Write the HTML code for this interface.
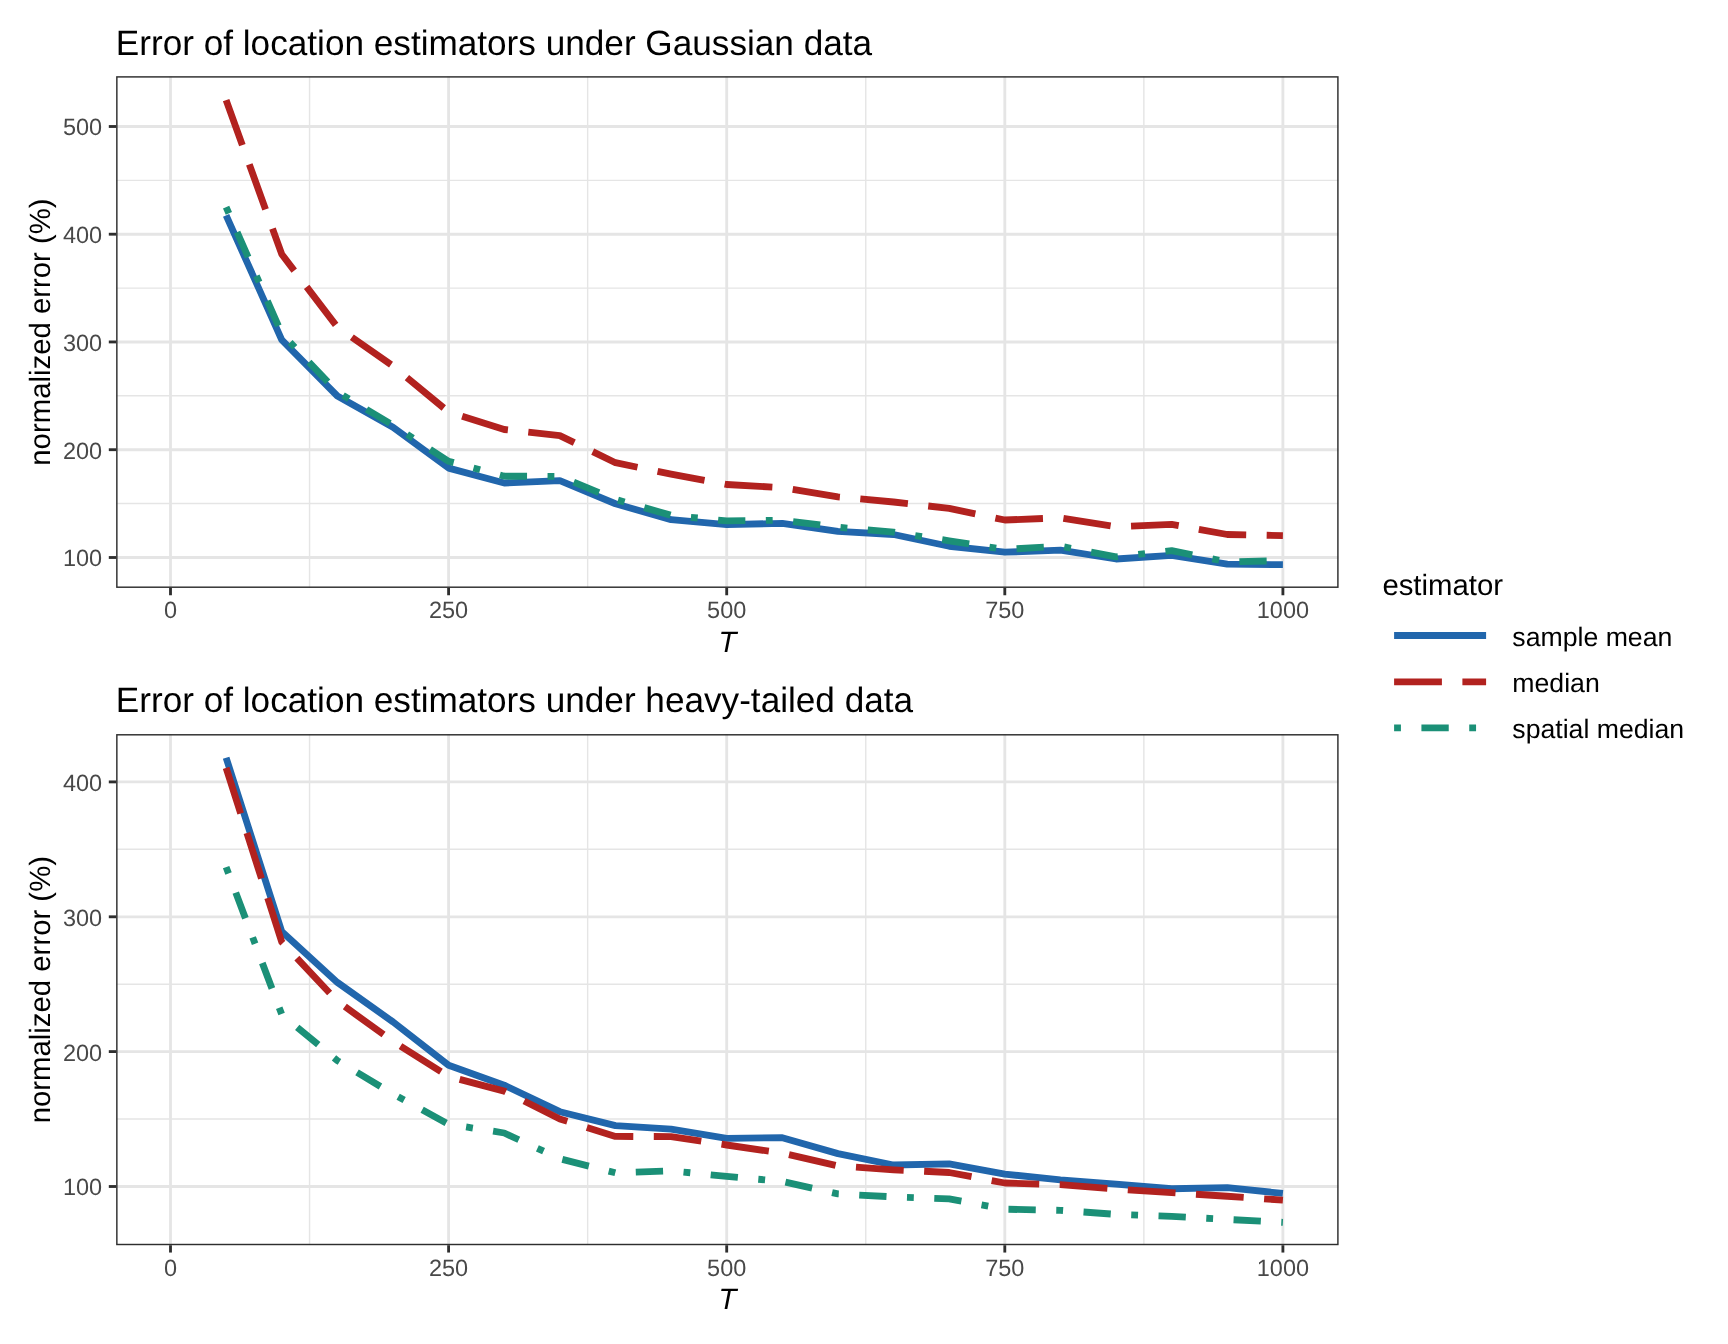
<!DOCTYPE html>
<html lang="en"><head><meta charset="utf-8"><title>Error of location estimators</title>
<style>
html,body{margin:0;padding:0;background:#fff;}
body{width:1728px;height:1344px;overflow:hidden;}
svg{display:block;font-family:"Liberation Sans",Arial,Helvetica,sans-serif;will-change:transform;-webkit-font-smoothing:antialiased;text-rendering:geometricPrecision;}
</style></head><body>
<svg width="1728" height="1344" viewBox="0 0 1728 1344">
<rect width="1728" height="1344" fill="#fff"/>
<clipPath id="c1"><rect x="116.12" y="76.18" width="1222.5" height="511.75"/></clipPath>
<g clip-path="url(#c1)">
<line x1="116.12" x2="1338.62" y1="180.4" y2="180.4" stroke="#E5E5E5" stroke-width="1.42"/>
<line x1="116.12" x2="1338.62" y1="288.1" y2="288.1" stroke="#E5E5E5" stroke-width="1.42"/>
<line x1="116.12" x2="1338.62" y1="395.8" y2="395.8" stroke="#E5E5E5" stroke-width="1.42"/>
<line x1="116.12" x2="1338.62" y1="503.5" y2="503.5" stroke="#E5E5E5" stroke-width="1.42"/>
<line y1="76.18" y2="587.93" x1="309.55" x2="309.55" stroke="#E5E5E5" stroke-width="1.42"/>
<line y1="76.18" y2="587.93" x1="587.65" x2="587.65" stroke="#E5E5E5" stroke-width="1.42"/>
<line y1="76.18" y2="587.93" x1="865.75" x2="865.75" stroke="#E5E5E5" stroke-width="1.42"/>
<line y1="76.18" y2="587.93" x1="1143.85" x2="1143.85" stroke="#E5E5E5" stroke-width="1.42"/>
<line x1="116.12" x2="1338.62" y1="126.5" y2="126.5" stroke="#E5E5E5" stroke-width="2.85"/>
<line x1="116.12" x2="1338.62" y1="234.2" y2="234.2" stroke="#E5E5E5" stroke-width="2.85"/>
<line x1="116.12" x2="1338.62" y1="341.95" y2="341.95" stroke="#E5E5E5" stroke-width="2.85"/>
<line x1="116.12" x2="1338.62" y1="449.7" y2="449.7" stroke="#E5E5E5" stroke-width="2.85"/>
<line x1="116.12" x2="1338.62" y1="557.5" y2="557.5" stroke="#E5E5E5" stroke-width="2.85"/>
<line y1="76.18" y2="587.93" x1="170.5" x2="170.5" stroke="#E5E5E5" stroke-width="2.85"/>
<line y1="76.18" y2="587.93" x1="448.6" x2="448.6" stroke="#E5E5E5" stroke-width="2.85"/>
<line y1="76.18" y2="587.93" x1="726.7" x2="726.7" stroke="#E5E5E5" stroke-width="2.85"/>
<line y1="76.18" y2="587.93" x1="1004.8" x2="1004.8" stroke="#E5E5E5" stroke-width="2.85"/>
<line y1="76.18" y2="587.93" x1="1282.9" x2="1282.9" stroke="#E5E5E5" stroke-width="2.85"/>
<polyline points="226.12,215.4 281.74,339.8 337.36,396 392.98,427.2 448.6,468.1 504.22,483 559.84,480.6 615.46,503.75 671.08,519.7 726.7,524.7 782.32,523.3 837.94,531.4 893.56,534.5 949.18,546.25 1004.8,552.2 1060.42,550.2 1116.04,559 1171.66,555.3 1227.28,564.2 1282.9,564.7" fill="none" stroke="#2166AC" stroke-width="6.83" stroke-linejoin="round"/>
<polyline points="226.12,100.1 281.74,254.2 337.36,327.1 392.98,366 448.6,412 504.22,429.5 559.84,435.6 615.46,462.7 671.08,474.2 726.7,484.5 782.32,487.7 837.94,496.9 893.56,502 949.18,508.4 1004.8,520 1060.42,517.8 1116.04,526.7 1171.66,524.4 1227.28,534.5 1282.9,535.6" fill="none" stroke="#B2221F" stroke-width="6.83" stroke-linejoin="round" stroke-dasharray="47.81 20.49"/>
<polyline points="226.12,207.1 281.74,333.5 337.36,391.9 392.98,425.2 448.6,461.3 504.22,476.2 559.84,476.4 615.46,499.4 671.08,515.3 726.7,520.9 782.32,520.2 837.94,527.2 893.56,532.2 949.18,540.8 1004.8,549.4 1060.42,546.25 1116.04,556.9 1171.66,550.6 1227.28,561.9 1282.9,560.6" fill="none" stroke="#1B9077" stroke-width="6.83" stroke-linejoin="round" stroke-dasharray="6.83 20.49 27.32 20.49"/>
</g>
<rect x="116.85" y="76.9" width="1221.05" height="510.3" fill="none" stroke="#2E2E2E" stroke-width="1.45"/>
<line x1="108.8" x2="116.12" y1="126.5" y2="126.5" stroke="#2E2E2E" stroke-width="2.85"/>
<text x="102.2" y="135.4" text-anchor="end" font-size="23.47" fill="#484848">500</text>
<line x1="108.8" x2="116.12" y1="234.2" y2="234.2" stroke="#2E2E2E" stroke-width="2.85"/>
<text x="102.2" y="243.1" text-anchor="end" font-size="23.47" fill="#484848">400</text>
<line x1="108.8" x2="116.12" y1="341.95" y2="341.95" stroke="#2E2E2E" stroke-width="2.85"/>
<text x="102.2" y="350.85" text-anchor="end" font-size="23.47" fill="#484848">300</text>
<line x1="108.8" x2="116.12" y1="449.7" y2="449.7" stroke="#2E2E2E" stroke-width="2.85"/>
<text x="102.2" y="458.6" text-anchor="end" font-size="23.47" fill="#484848">200</text>
<line x1="108.8" x2="116.12" y1="557.5" y2="557.5" stroke="#2E2E2E" stroke-width="2.85"/>
<text x="102.2" y="566.4" text-anchor="end" font-size="23.47" fill="#484848">100</text>
<line y1="587.93" y2="595.26" x1="170.5" x2="170.5" stroke="#2E2E2E" stroke-width="2.85"/>
<text x="170.5" y="618.2" text-anchor="middle" font-size="23.47" fill="#484848">0</text>
<line y1="587.93" y2="595.26" x1="448.6" x2="448.6" stroke="#2E2E2E" stroke-width="2.85"/>
<text x="448.6" y="618.2" text-anchor="middle" font-size="23.47" fill="#484848">250</text>
<line y1="587.93" y2="595.26" x1="726.7" x2="726.7" stroke="#2E2E2E" stroke-width="2.85"/>
<text x="726.7" y="618.2" text-anchor="middle" font-size="23.47" fill="#484848">500</text>
<line y1="587.93" y2="595.26" x1="1004.8" x2="1004.8" stroke="#2E2E2E" stroke-width="2.85"/>
<text x="1004.8" y="618.2" text-anchor="middle" font-size="23.47" fill="#484848">750</text>
<line y1="587.93" y2="595.26" x1="1282.9" x2="1282.9" stroke="#2E2E2E" stroke-width="2.85"/>
<text x="1282.9" y="618.2" text-anchor="middle" font-size="23.47" fill="#484848">1000</text>
<text x="115.83" y="54.7" font-size="35.16" fill="#000">Error of location estimators under Gaussian data</text>
<text x="727.38" y="652" text-anchor="middle" font-size="29.33" font-style="italic" fill="#000">T</text>
<text transform="translate(50.2,332.05) rotate(-90)" text-anchor="middle" font-size="29.33" fill="#000">normalized error (%)</text>
<clipPath id="c2"><rect x="116.12" y="734.07" width="1222.5" height="511.15"/></clipPath>
<g clip-path="url(#c2)">
<line x1="116.12" x2="1338.62" y1="849.3" y2="849.3" stroke="#E5E5E5" stroke-width="1.42"/>
<line x1="116.12" x2="1338.62" y1="984.2" y2="984.2" stroke="#E5E5E5" stroke-width="1.42"/>
<line x1="116.12" x2="1338.62" y1="1119" y2="1119" stroke="#E5E5E5" stroke-width="1.42"/>
<line y1="734.07" y2="1245.22" x1="309.55" x2="309.55" stroke="#E5E5E5" stroke-width="1.42"/>
<line y1="734.07" y2="1245.22" x1="587.65" x2="587.65" stroke="#E5E5E5" stroke-width="1.42"/>
<line y1="734.07" y2="1245.22" x1="865.75" x2="865.75" stroke="#E5E5E5" stroke-width="1.42"/>
<line y1="734.07" y2="1245.22" x1="1143.85" x2="1143.85" stroke="#E5E5E5" stroke-width="1.42"/>
<line x1="116.12" x2="1338.62" y1="781.9" y2="781.9" stroke="#E5E5E5" stroke-width="2.85"/>
<line x1="116.12" x2="1338.62" y1="916.8" y2="916.8" stroke="#E5E5E5" stroke-width="2.85"/>
<line x1="116.12" x2="1338.62" y1="1051.6" y2="1051.6" stroke="#E5E5E5" stroke-width="2.85"/>
<line x1="116.12" x2="1338.62" y1="1186.5" y2="1186.5" stroke="#E5E5E5" stroke-width="2.85"/>
<line y1="734.07" y2="1245.22" x1="170.5" x2="170.5" stroke="#E5E5E5" stroke-width="2.85"/>
<line y1="734.07" y2="1245.22" x1="448.6" x2="448.6" stroke="#E5E5E5" stroke-width="2.85"/>
<line y1="734.07" y2="1245.22" x1="726.7" x2="726.7" stroke="#E5E5E5" stroke-width="2.85"/>
<line y1="734.07" y2="1245.22" x1="1004.8" x2="1004.8" stroke="#E5E5E5" stroke-width="2.85"/>
<line y1="734.07" y2="1245.22" x1="1282.9" x2="1282.9" stroke="#E5E5E5" stroke-width="2.85"/>
<polyline points="226.12,757.7 281.74,931.6 337.36,982.4 392.98,1021.9 448.6,1065.2 504.22,1085.2 559.84,1111.7 615.46,1125.6 671.08,1129.1 726.7,1138.4 782.32,1137.7 837.94,1153.6 893.56,1165 949.18,1163.9 1004.8,1174.1 1060.42,1179.8 1116.04,1184.1 1171.66,1188.75 1227.28,1187.7 1282.9,1193.4" fill="none" stroke="#2166AC" stroke-width="6.83" stroke-linejoin="round"/>
<polyline points="226.12,767.9 281.74,942 337.36,1001.2 392.98,1041.4 448.6,1076.4 504.22,1091.1 559.84,1119 615.46,1136.4 671.08,1136.6 726.7,1145 782.32,1153.1 837.94,1165.9 893.56,1169.8 949.18,1172.5 1004.8,1183 1060.42,1184.7 1116.04,1189.1 1171.66,1192.7 1227.28,1196.25 1282.9,1200.2" fill="none" stroke="#B2221F" stroke-width="6.83" stroke-linejoin="round" stroke-dasharray="47.81 20.49"/>
<polyline points="226.12,867.1 281.74,1014.4 337.36,1060.6 392.98,1094 448.6,1124.2 504.22,1133 559.84,1158.75 615.46,1172.8 671.08,1170.8 726.7,1176.4 782.32,1181.4 837.94,1193.9 893.56,1196.9 949.18,1198.9 1004.8,1209.2 1060.42,1210.3 1116.04,1214.4 1171.66,1216.4 1227.28,1219.4 1282.9,1222.3" fill="none" stroke="#1B9077" stroke-width="6.83" stroke-linejoin="round" stroke-dasharray="6.83 20.49 27.32 20.49"/>
</g>
<rect x="116.85" y="734.8" width="1221.05" height="509.7" fill="none" stroke="#2E2E2E" stroke-width="1.45"/>
<line x1="108.8" x2="116.12" y1="781.9" y2="781.9" stroke="#2E2E2E" stroke-width="2.85"/>
<text x="102.2" y="790.8" text-anchor="end" font-size="23.47" fill="#484848">400</text>
<line x1="108.8" x2="116.12" y1="916.8" y2="916.8" stroke="#2E2E2E" stroke-width="2.85"/>
<text x="102.2" y="925.7" text-anchor="end" font-size="23.47" fill="#484848">300</text>
<line x1="108.8" x2="116.12" y1="1051.6" y2="1051.6" stroke="#2E2E2E" stroke-width="2.85"/>
<text x="102.2" y="1060.5" text-anchor="end" font-size="23.47" fill="#484848">200</text>
<line x1="108.8" x2="116.12" y1="1186.5" y2="1186.5" stroke="#2E2E2E" stroke-width="2.85"/>
<text x="102.2" y="1195.4" text-anchor="end" font-size="23.47" fill="#484848">100</text>
<line y1="1245.22" y2="1252.55" x1="170.5" x2="170.5" stroke="#2E2E2E" stroke-width="2.85"/>
<text x="170.5" y="1275.5" text-anchor="middle" font-size="23.47" fill="#484848">0</text>
<line y1="1245.22" y2="1252.55" x1="448.6" x2="448.6" stroke="#2E2E2E" stroke-width="2.85"/>
<text x="448.6" y="1275.5" text-anchor="middle" font-size="23.47" fill="#484848">250</text>
<line y1="1245.22" y2="1252.55" x1="726.7" x2="726.7" stroke="#2E2E2E" stroke-width="2.85"/>
<text x="726.7" y="1275.5" text-anchor="middle" font-size="23.47" fill="#484848">500</text>
<line y1="1245.22" y2="1252.55" x1="1004.8" x2="1004.8" stroke="#2E2E2E" stroke-width="2.85"/>
<text x="1004.8" y="1275.5" text-anchor="middle" font-size="23.47" fill="#484848">750</text>
<line y1="1245.22" y2="1252.55" x1="1282.9" x2="1282.9" stroke="#2E2E2E" stroke-width="2.85"/>
<text x="1282.9" y="1275.5" text-anchor="middle" font-size="23.47" fill="#484848">1000</text>
<text x="115.83" y="711.8" font-size="35.16" fill="#000">Error of location estimators under heavy-tailed data</text>
<text x="727.38" y="1309.3" text-anchor="middle" font-size="29.33" font-style="italic" fill="#000">T</text>
<text transform="translate(50.2,989.65) rotate(-90)" text-anchor="middle" font-size="29.33" fill="#000">normalized error (%)</text>
<text x="1382.4" y="594.7" font-size="29.33" fill="#000">estimator</text>
<line x1="1394.1" x2="1486.1" y1="635.5" y2="635.5" stroke="#2166AC" stroke-width="6.83"/>
<text x="1512.3" y="646.4" font-size="26.67" fill="#000">sample mean</text>
<line x1="1394.1" x2="1486.1" y1="681.8" y2="681.8" stroke="#B2221F" stroke-width="6.83" stroke-dasharray="47.81 20.49"/>
<text x="1512.3" y="692.4" font-size="26.67" fill="#000">median</text>
<line x1="1394.1" x2="1486.1" y1="727.8" y2="727.8" stroke="#1B9077" stroke-width="6.83" stroke-dasharray="6.83 20.49 27.32 20.49"/>
<text x="1512.3" y="738.4" font-size="26.67" fill="#000">spatial median</text>
</svg>
</body></html>
